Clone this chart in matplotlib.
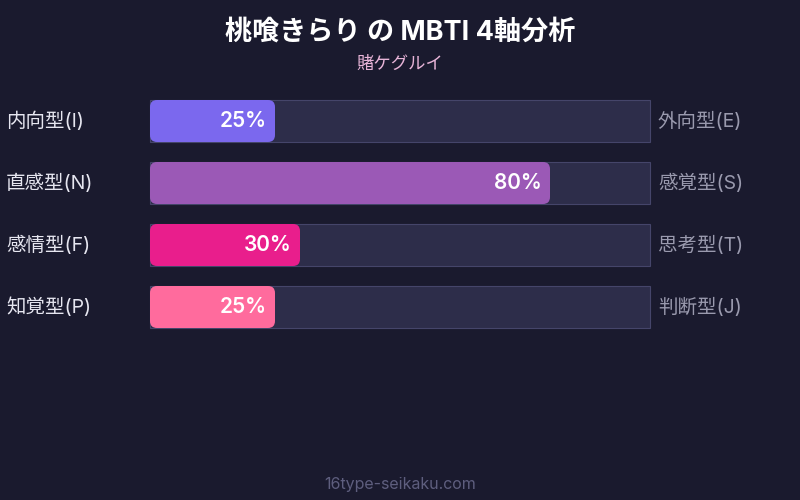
import matplotlib
matplotlib.use("Agg")
import matplotlib.pyplot as plt
from matplotlib.patches import FancyBboxPatch, Rectangle

fam = ['Inter', 'Noto Sans CJK JP', 'DejaVu Sans']
plt.rcParams['font.family'] = fam

title = "桃喰きらり の MBTI 4軸分析"
subtitle = "賭ケグルイ"
footer = "16type-seikaku.com"
leftLabels = ["内向型(I)", "直感型(N)", "感情型(F)", "知覚型(P)"]
rightLabels = ["外向型(E)", "感覚型(S)", "思考型(T)", "判断型(J)"]
values = [25, 80, 30, 25]
colors = ["#7b68ee", "#9b59b6", "#e91e8c", "#ff6b9d"]

bg = "#1a1a2e"
W, H = 800, 500
fig = plt.figure(figsize=(8, 5), dpi=100, facecolor=bg)

# bar area: x 150..650 px, y 100..328 px
barH = 42 / 62
half = barH / 2
ax = fig.add_axes([150 / W, 1 - 328 / H, 500 / W, 228 / H])
ax.set_facecolor(bg)
ax.set_xlim(0, 100)
ax.set_ylim(len(values) - 1 + half, -half)
ax.axis("off")

pxX = 100 / 500      # data units per pixel in x
pxY = 1 / 62         # data units per pixel in y
aspect = pxY / pxX

for i, (v, c) in enumerate(zip(values, colors)):
    ax.add_patch(Rectangle((0, i - half), 100, barH, facecolor="#2d2d4a",
                           edgecolor="#45456a", linewidth=0.8, clip_on=False))
    ax.add_patch(FancyBboxPatch((0, i - half), v, barH,
                                boxstyle="round,pad=0,rounding_size=1.4",
                                mutation_aspect=aspect, facecolor=c,
                                edgecolor="none", clip_on=False))
    ax.text(v - 8 * pxX, i, f"{v}%", ha="right", va="center",
            color="white", fontsize=15, fontweight="semibold")
    ax.text(-144 * pxX, i, leftLabels[i], ha="left", va="center",
            color="#e6e6f0", fontsize=14, clip_on=False)
    ax.text(100 + 8 * pxX, i, rightLabels[i], ha="left", va="center",
            color="#9a9aae", fontsize=14, clip_on=False)

fig.text(0.5, 1 - 33 / H, title, ha="center", va="center",
         color="white", fontsize=19.5, fontweight="bold")
fig.text(0.5, 1 - 64 / H, subtitle, ha="center", va="center",
         color="#e8b4d8", fontsize=12.5)
fig.text(0.5, 1 - 484 / H, footer, ha="center", va="center",
         color="#5e5e7e", fontsize=11.5)

fig.savefig("out.png", dpi=100, facecolor=bg)
